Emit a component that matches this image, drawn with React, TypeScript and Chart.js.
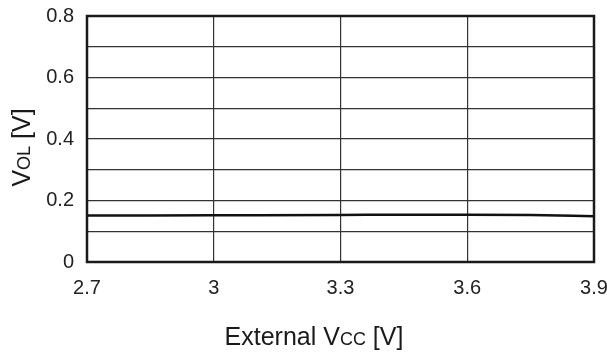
import React, { useEffect, useRef } from "react";
import { Chart, registerables } from "chart.js";

Chart.register(...registerables);

const xValues = [2.7, 3.0, 3.3, 3.45, 3.6, 3.75, 3.9];
const vol = [0.151, 0.152, 0.153, 0.154, 0.154, 0.153, 0.149];
const xTicks = [2.7, 3, 3.3, 3.6, 3.9];
const xTickLabels = ["2.7", "3", "3.3", "3.6", "3.9"];
const yTicks = [0, 0.1, 0.2, 0.3, 0.4, 0.5, 0.6, 0.7, 0.8];
const yTickLabels = ["0", "", "0.2", "", "0.4", "", "0.6", "", "0.8"];
const xTitle = [
  { text: "External V", sub: false },
  { text: "CC", sub: true },
  { text: " [V]", sub: false },
];
const yTitle = [
  { text: "V", sub: false },
  { text: "OL", sub: true },
  { text: " [V]", sub: false },
];

const FONT = "'Liberation Sans', Arial, sans-serif";
const TITLE_SIZE = 25;
const SUB_SIZE = 18;
const TICK_SIZE = 20;

function richWidth(ctx: CanvasRenderingContext2D, parts: { text: string; sub: boolean }[]) {
  let w = 0;
  for (const p of parts) {
    ctx.font = `${p.sub ? SUB_SIZE : TITLE_SIZE}px ${FONT}`;
    w += ctx.measureText(p.text).width;
  }
  return w;
}

function drawRich(ctx: CanvasRenderingContext2D, parts: { text: string; sub: boolean }[], cx: number, baseY: number) {
  const w = richWidth(ctx, parts);
  let x = cx - w / 2;
  ctx.textAlign = "left";
  ctx.textBaseline = "alphabetic";
  for (const p of parts) {
    ctx.font = `${p.sub ? SUB_SIZE : TITLE_SIZE}px ${FONT}`;
    ctx.fillText(p.text, x, baseY);
    x += ctx.measureText(p.text).width;
  }
}

const decorPlugin = {
  id: "decor",
  afterDatasetsDraw(chart: any) {
    const { ctx, chartArea } = chart;
    ctx.save();
    ctx.strokeStyle = "#1a1a1a";
    ctx.lineWidth = 2.5;
    ctx.strokeRect(chartArea.left, chartArea.top, chartArea.right - chartArea.left, chartArea.bottom - chartArea.top);
    ctx.restore();
  },
  afterDraw(chart: any) {
    const { ctx } = chart;
    ctx.save();
    ctx.fillStyle = "#1a1a1a";
    drawRich(ctx, xTitle, 314, 345);
    ctx.translate(30, 147.5);
    ctx.rotate(-Math.PI / 2);
    drawRich(ctx, yTitle, 0, 0);
    ctx.restore();
  },
};

export default function App() {
  const ref = useRef<HTMLCanvasElement | null>(null);
  useEffect(() => {
    if (!ref.current) return;
    const chart = new Chart(ref.current, {
      type: "line",
      data: {
        datasets: [
          {
            data: xValues.map((x, i) => ({ x, y: vol[i] })),
            borderColor: "#111",
            borderWidth: 2.5,
            pointRadius: 0,
            tension: 0.4,
            cubicInterpolationMode: "monotone",
            fill: false,
          },
        ],
      },
      options: {
        animation: false,
        responsive: false,
        maintainAspectRatio: false,
        layout: { padding: { top: 16, right: 13, left: 0, bottom: 0 } },
        plugins: { legend: { display: false }, tooltip: { enabled: false } },
        scales: {
          x: {
            type: "linear",
            min: 2.7,
            max: 3.9,
            afterBuildTicks: (s: any) => {
              s.ticks = xTicks.map((v) => ({ value: v }));
            },
            afterFit: (s: any) => {
              s.height = 92;
              s.paddingLeft = 0;
              s.paddingRight = 0;
            },
            ticks: {
              padding: 14,
              color: "#222",
              font: { family: FONT, size: TICK_SIZE },
              maxRotation: 0,
              autoSkip: false,
              callback: (v: any, i: number) => xTickLabels[i],
            },
            grid: { color: "#333", lineWidth: 1.2, drawTicks: false },
            border: { display: false },
          },
          y: {
            type: "linear",
            min: 0,
            max: 0.8,
            afterBuildTicks: (s: any) => {
              s.ticks = yTicks.map((v) => ({ value: v }));
            },
            afterFit: (s: any) => {
              s.width = 87;
              s.paddingTop = 0;
              s.paddingBottom = 0;
            },
            ticks: {
              padding: 13,
              color: "#222",
              font: { family: FONT, size: TICK_SIZE },
              autoSkip: false,
              callback: (v: any, i: number) => yTickLabels[i],
            },
            grid: { color: "#333", lineWidth: 1.2, drawTicks: false },
            border: { display: false },
          },
        },
      },
      plugins: [decorPlugin],
    } as any);
    return () => chart.destroy();
  }, []);
  return (
    <div style={{ position: "fixed", left: 0, top: 0, width: 607, height: 354, background: "#fff" }}>
      <canvas ref={ref} width={607} height={354} style={{ display: "block", width: 607, height: 354 }} />
    </div>
  );
}
